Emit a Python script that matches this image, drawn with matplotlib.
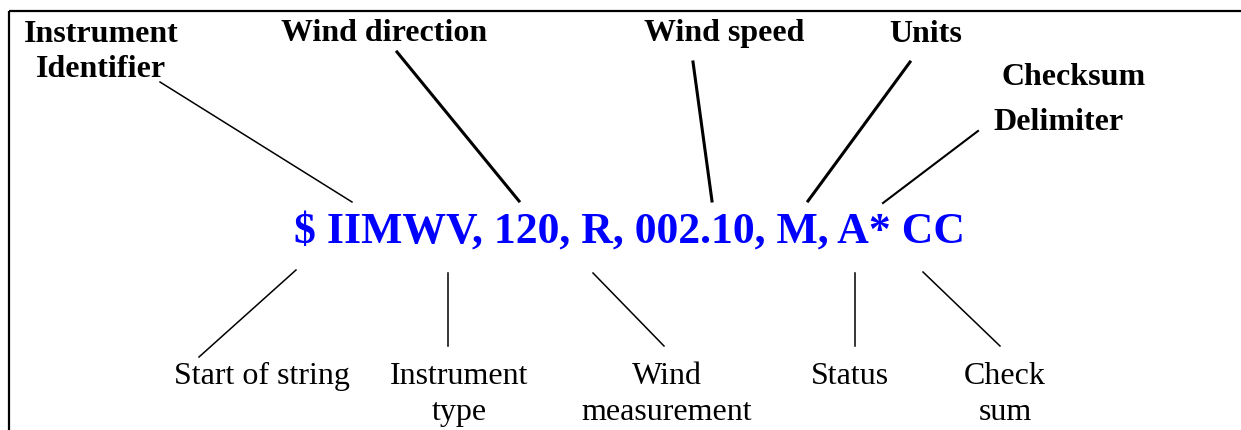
# NMEA 문장 구조 다이어그램 (MWV)

import matplotlib.pyplot as plt

# 위쪽 굵은 글씨 라벨
top_labels = ["Instrument", "Identifier", "Wind direction", "Wind speed",
              "Units", "Checksum", "Delimiter"]
# 가운데 파란 문장
sentence = "$ IIMWV, 120, R, 002.10, M, A* CC"
# 아래쪽 라벨 (두 줄짜리는 \n 으로)
bottom_labels = ["Start of string", "Instrument\ntype", "Wind\nmeasurement",
                 "Status", "Check\nsum"]

# 위치 (픽셀 기준, 왼쪽 위 원점)
top_xy = [(101, 42), (101, 77), (384, 41), (724, 41), (926, 42),
          (1074, 85), (1058, 130)]
bottom_x = [262, 459, 667, 850, 1005]
bottom_y0 = 384
line_gap = 36

# 지시선: (x1, y1, x2, y2, 두께)
top_lines = [(160, 82, 352, 202, 1.1), (397, 52, 519, 201, 2.2),
             (693, 62, 712, 201, 2.2), (910, 62, 808, 201, 2.2),
             (978, 131, 883, 203, 1.5)]
bottom_lines = [(296, 270, 199, 357), (448, 273, 448, 346),
                (593, 273, 664, 346), (855, 273, 855, 346),
                (923, 272, 1000, 346)]

W, H = 1241, 430
fig = plt.figure(figsize=(W / 100, H / 100), dpi=100)
ax = fig.add_axes([0, 0, 1, 1])
ax.set_xlim(0, W)
ax.set_ylim(H, 0)
ax.axis('off')

serif = 'Liberation Serif'

# 테두리 (위, 왼쪽만)
ax.plot([9, W], [11, 11], color='black', lw=1.6, solid_capstyle='butt')
ax.plot([9, 9], [11, H], color='black', lw=1.6, solid_capstyle='butt')

for text, (x, y) in zip(top_labels, top_xy):
    ax.text(x, y, text, family=serif, weight='bold', fontsize=23,
            ha='center', va='baseline')

ax.text(630, 243, sentence, family=serif, weight='bold', fontsize=31.5,
        color='#0000ff', ha='center', va='baseline')

for text, x in zip(bottom_labels, bottom_x):
    for i, part in enumerate(text.split('\n')):
        ax.text(x, bottom_y0 + i * line_gap, part, family=serif, fontsize=23,
                ha='center', va='baseline')

for x1, y1, x2, y2, lw in top_lines:
    ax.plot([x1, x2], [y1, y2], color='black', lw=lw)
for x1, y1, x2, y2 in bottom_lines:
    ax.plot([x1, x2], [y1, y2], color='black', lw=1.1)

fig.savefig('out.png', dpi=100)
